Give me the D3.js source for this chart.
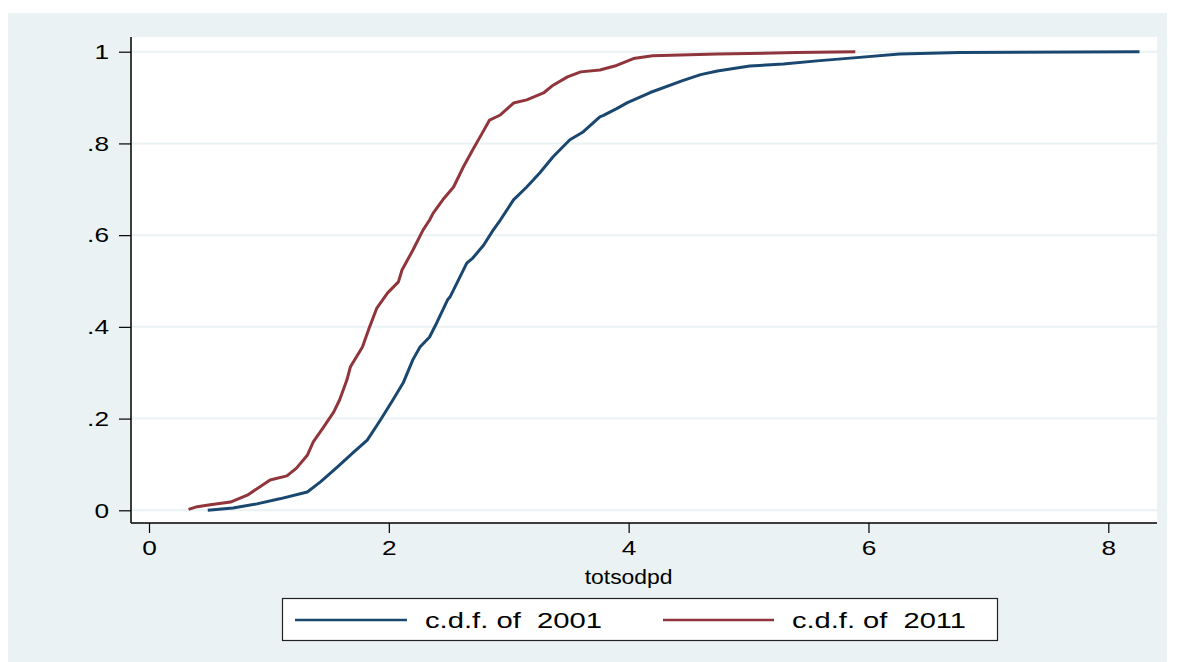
<!DOCTYPE html>
<html>
<head>
<meta charset="utf-8">
<script src="https://cdn.jsdelivr.net/npm/d3@7"></script>
<style>
  html, body { margin: 0; padding: 0; background: #ffffff; }
  svg { display: block; font-family: "Liberation Sans", Arial, sans-serif; }
</style>
</head>
<body>
<svg id="chart" width="1180" height="662"></svg>
<script>
// ---- data ----
const xTicks = [0, 2, 4, 6, 8];
const yTicks = [0, 0.2, 0.4, 0.6, 0.8, 1];
const yTickLabels = ["0", ".2", ".4", ".6", ".8", "1"];
const xLabel = "totsodpd";
const seriesNames = ["c.d.f. of  2001", "c.d.f. of  2011"];
const seriesColors = ["#1A476F", "#90353B"];

const cdf2001 = [
  [0.49, 0.000], [0.70, 0.005], [0.90, 0.014], [1.09, 0.025], [1.32, 0.040],
  [1.43, 0.062], [1.57, 0.094], [1.70, 0.125], [1.82, 0.153], [1.93, 0.197],
  [2.035, 0.241], [2.12, 0.278], [2.20, 0.328], [2.26, 0.356], [2.34, 0.378],
  [2.40, 0.409], [2.49, 0.459], [2.51, 0.465], [2.65, 0.539], [2.70, 0.550],
  [2.79, 0.578], [2.87, 0.611], [2.93, 0.633], [3.04, 0.677], [3.15, 0.705],
  [3.26, 0.736], [3.37, 0.771], [3.51, 0.808], [3.62, 0.825], [3.76, 0.858],
  [3.79, 0.861], [3.90, 0.876], [3.99, 0.889], [4.18, 0.911], [4.45, 0.937],
  [4.60, 0.950], [4.74, 0.958], [5.01, 0.969], [5.29, 0.973], [5.57, 0.980],
  [5.85, 0.986], [6.26, 0.995], [6.76, 0.998], [8.26, 1.000]
];

const cdf2011 = [
  [0.33, 0.002], [0.39, 0.007], [0.51, 0.012], [0.68, 0.018], [0.82, 0.033],
  [1.01, 0.066], [1.15, 0.075], [1.23, 0.092], [1.32, 0.120], [1.37, 0.149],
  [1.45, 0.179], [1.54, 0.214], [1.59, 0.241], [1.65, 0.284], [1.68, 0.313],
  [1.78, 0.356], [1.84, 0.400], [1.90, 0.441], [1.99, 0.474], [2.08, 0.498],
  [2.11, 0.524], [2.20, 0.567], [2.285, 0.611], [2.34, 0.633], [2.37, 0.648],
  [2.45, 0.677], [2.54, 0.705], [2.62, 0.748], [2.70, 0.786], [2.78, 0.823],
  [2.84, 0.851], [2.93, 0.862], [3.04, 0.888], [3.15, 0.895], [3.29, 0.910],
  [3.37, 0.927], [3.49, 0.945], [3.60, 0.956], [3.76, 0.960], [3.90, 0.970],
  [4.04, 0.985], [4.20, 0.991], [4.74, 0.995], [5.40, 0.998], [5.89, 1.000]
];

// ---- layout ----
const svg = d3.select("#chart");
const FONT = "Liberation Sans, Arial, sans-serif";
const SX = 1.25; // horizontal stretch of text seen in the reference

// outer graph region (Stata s2color background)
svg.append("rect").attr("x", 8).attr("y", 13).attr("width", 1159).attr("height", 649)
  .attr("fill", "#EAF2F3");

const plot = { left: 131, right: 1157, top: 37, bottom: 523 };
svg.append("rect").attr("x", plot.left).attr("y", plot.top)
  .attr("width", plot.right - plot.left).attr("height", plot.bottom - plot.top)
  .attr("fill", "#ffffff");

const x = d3.scaleLinear().domain([0, 8]).range([149, 1108.3]);
const y = d3.scaleLinear().domain([0, 1]).range([510.3, 51.7]);

// gridlines
svg.append("g").selectAll("line").data(yTicks).join("line")
  .attr("x1", plot.left).attr("x2", plot.right)
  .attr("y1", d => y(d)).attr("y2", d => y(d))
  .attr("stroke", "#EAF2F3").attr("stroke-width", 2);

// y axis
const yAxis = d3.axisLeft(y).tickValues(yTicks)
  .tickFormat((d, i) => yTickLabels[i]).tickSize(12).tickPadding(10);
const gy = svg.append("g").attr("transform", `translate(${plot.left},0)`).call(yAxis);
gy.select(".domain").attr("d", `M0,${plot.top}V${plot.bottom}`).attr("stroke", "#000").attr("stroke-width", 1.5);
gy.selectAll(".tick line").attr("stroke", "#000").attr("stroke-width", 1.2);
gy.selectAll(".tick text").attr("font-size", 21).attr("fill", "#000").attr("font-family", FONT)
  .each(function() {
    const t = d3.select(this);
    const tx = +t.attr("x");
    t.attr("x", 0).attr("transform", `translate(${tx},0) scale(${SX},1)`);
  });

// x axis
const xAxis = d3.axisBottom(x).tickValues(xTicks).tickFormat(d3.format("d"))
  .tickSize(10).tickPadding(7);
const gx = svg.append("g").attr("transform", `translate(0,${plot.bottom})`).call(xAxis);
gx.select(".domain").attr("d", `M${plot.left},0H${plot.right}`).attr("stroke", "#000").attr("stroke-width", 1.5);
gx.selectAll(".tick line").attr("stroke", "#000").attr("stroke-width", 1.2);
gx.selectAll(".tick text").attr("font-size", 21).attr("fill", "#000").attr("font-family", FONT)
  .attr("transform", `scale(${SX},1)`);

// x axis title
svg.append("text").attr("x", x(4)).attr("y", 584).attr("text-anchor", "middle")
  .attr("font-size", 21).attr("fill", "#000")
  .attr("textLength", 88).attr("lengthAdjust", "spacingAndGlyphs")
  .text(xLabel);

// curves
const line = d3.line().x(d => x(d[0])).y(d => y(d[1]));
[cdf2001, cdf2011].forEach((data, i) => {
  svg.append("path").datum(data).attr("d", line)
    .attr("fill", "none").attr("stroke", seriesColors[i])
    .attr("stroke-width", 3).attr("stroke-linejoin", "round");
});

// legend
const lg = svg.append("g");
lg.append("rect").attr("x", 282.5).attr("y", 598.5).attr("width", 715).attr("height", 42)
  .attr("fill", "#ffffff").attr("stroke", "#222").attr("stroke-width", 1.2);
const legendItems = [
  { x1: 295, x2: 407, tx: 425, len: 177 },
  { x1: 663, x2: 774, tx: 792, len: 174 }
];
legendItems.forEach((it, i) => {
  lg.append("line").attr("x1", it.x1).attr("x2", it.x2).attr("y1", 620).attr("y2", 620)
    .attr("stroke", seriesColors[i]).attr("stroke-width", 2.5);
  lg.append("text").attr("x", it.tx).attr("y", 628).attr("font-size", 22)
    .attr("fill", "#000").attr("xml:space", "preserve").style("white-space", "pre")
    .attr("textLength", it.len).attr("lengthAdjust", "spacingAndGlyphs")
    .text(seriesNames[i]);
});
</script>
</body>
</html>
